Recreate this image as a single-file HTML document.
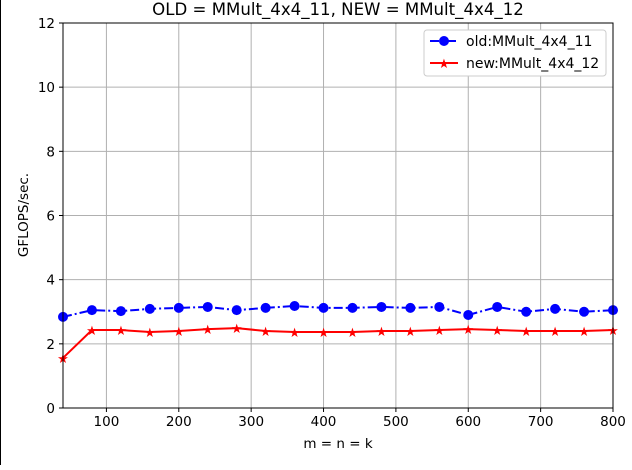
<!DOCTYPE html>
<html><head><meta charset="utf-8"><style>
html,body{margin:0;padding:0;background:#fff;}
svg text{font-family:"DejaVu Sans","Liberation Sans",sans-serif;}
</style></head><body>
<svg id="chart" width="632" height="465" xmlns="http://www.w3.org/2000/svg">
<line x1="0.5" y1="0" x2="0.5" y2="465" stroke="#000" stroke-width="1"/>
<g id="grid"></g>
<g id="series"></g>
<rect x="63" y="23" width="550" height="385" fill="none" stroke="#000" stroke-width="1"/>
<g id="axes"></g>
<text x="338" y="15" text-anchor="middle" font-size="16.6">OLD = MMult_4x4_11, NEW = MMult_4x4_12</text>
<text x="338" y="448" text-anchor="middle" font-size="13.5">m = n = k</text>
<text transform="translate(28,215) rotate(-90)" text-anchor="middle" font-size="13.5">GFLOPS/sec.</text>
<g>
<rect x="424" y="30" width="182" height="46" rx="3" fill="#fff" stroke="#ccc"/>
<g>
<line x1="430" y1="41" x2="458" y2="41" stroke="blue" stroke-width="2" stroke-dasharray="9,3,2,3"/>
<circle cx="444" cy="41" r="5" fill="blue"/>
<text x="466" y="46" font-size="14">old:MMult_4x4_11</text></g>
<g>
<line x1="430" y1="63" x2="458" y2="63" stroke="red" stroke-width="2"/>
<text x="444" y="68" font-size="13" fill="red" text-anchor="middle">★</text>
<text x="466" y="68" font-size="14">new:MMult_4x4_12</text></g>
</g>
</svg>
<script>
const sizes=[40,80,120,160,200,240,280,320,360,400,440,480,520,560,600,640,680,720,760,800];
const oldVals=[2.84,3.05,3.02,3.09,3.12,3.15,3.05,3.12,3.18,3.12,3.12,3.15,3.12,3.15,2.9,3.15,3.0,3.09,3.0,3.05];
const newVals=[1.56,2.43,2.43,2.37,2.4,2.46,2.49,2.4,2.37,2.37,2.37,2.4,2.4,2.43,2.46,2.43,2.4,2.4,2.4,2.43];
const xTicks=[100,200,300,400,500,600,700,800];
const yTicks=[0,2,4,6,8,10,12];
const NS="http://www.w3.org/2000/svg";
const X=v=>63+(v-40)/760*550, Y=v=>408-v/12*385;
function mk(t,a,p){const e=document.createElementNS(NS,t);for(const k in a)e.setAttribute(k,a[k]);p.appendChild(e);return e;}
const grid=document.getElementById('grid'),axes=document.getElementById('axes'),ser=document.getElementById('series');
xTicks.forEach(t=>{
 const l=mk('line',{x1:X(t),x2:X(t),y1:23,y2:408,stroke:'#b0b0b0','stroke-width':1},grid);
 
 
 mk('line',{x1:X(t),x2:X(t),y1:408,y2:412,stroke:'#000'},axes);
 const tx=mk('text',{x:X(t),y:426,'text-anchor':'middle','font-size':13.5},axes);tx.textContent=t;
 
 
});
yTicks.forEach(t=>{
 const l=mk('line',{x1:63,x2:613,y1:Y(t),y2:Y(t),stroke:'#b0b0b0','stroke-width':1},grid);
 
 
 mk('line',{x1:59,x2:63,y1:Y(t),y2:Y(t),stroke:'#000'},axes);
 const tx=mk('text',{x:55,y:Y(t)+5,'text-anchor':'end','font-size':13.5},axes);tx.textContent=t;
 
 
});
const pts=v=>sizes.map((s,i)=>X(s)+','+Y(v[i])).join(' ');
const lo=mk('polyline',{points:pts(oldVals),fill:'none',stroke:'blue','stroke-width':2,'stroke-dasharray':'9,3,2,3'},ser);


const ln=mk('polyline',{points:pts(newVals),fill:'none',stroke:'red','stroke-width':2},ser);


sizes.forEach((s,i)=>{
 const c=mk('circle',{cx:X(s),cy:Y(oldVals[i]),r:5,fill:'blue'},ser);
 
 
 const st=mk('text',{x:X(s),y:Y(newVals[i])+5,'font-size':13,fill:'red','text-anchor':'middle'},ser);
 st.textContent='★';
 
 
});
</script>
</body></html>
